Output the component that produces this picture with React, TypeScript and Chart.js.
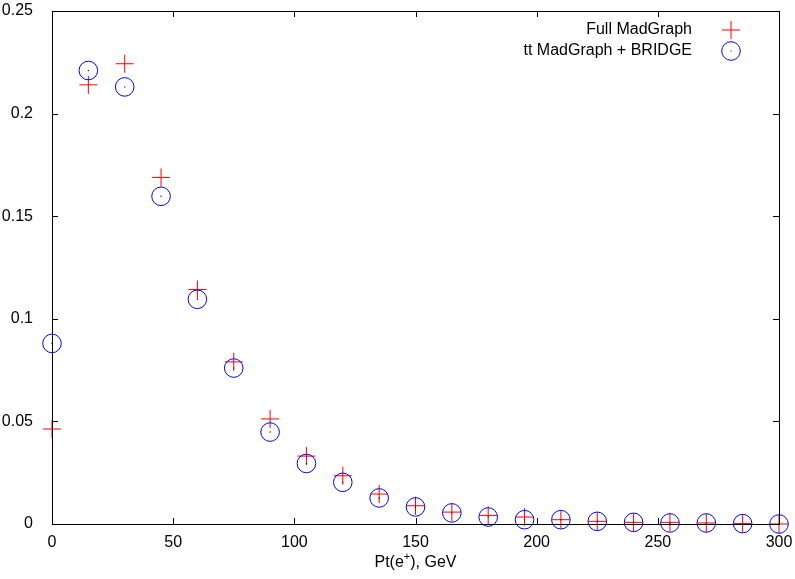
import React, { useEffect, useRef } from "react";
import { Chart, registerables } from "chart.js";

Chart.register(...registerables);

// ---- data ----
const ptValues = [0, 15, 30, 45, 60, 75, 90, 105, 120, 135, 150, 165, 180, 195, 210, 225, 240, 255, 270, 285, 300];
const fullMadGraph = [0.0463, 0.214, 0.2243, 0.1689, 0.1143, 0.079, 0.0512, 0.0331, 0.0235, 0.0146, 0.0089, 0.0058, 0.0042, 0.0034, 0.0021, 0.0013, 0.0008, 0.0008, 0.0005, 0.0002, 0.0];
const ttBridge = [0.088, 0.221, 0.213, 0.1597, 0.1095, 0.076, 0.0448, 0.0295, 0.0203, 0.0127, 0.0083, 0.0054, 0.0034, 0.0021, 0.0021, 0.0013, 0.0008, 0.0005, 0.0005, 0.0002, 0.0];
const xTickValues = [0, 50, 100, 150, 200, 250, 300];
const yTickValues = [0, 0.05, 0.1, 0.15, 0.2, 0.25];
const seriesLabels = ["Full MadGraph", "tt MadGraph + BRIDGE"];
const xTitleMain = "Pt(e";
const xTitleSup = "+";
const xTitleEnd = "), GeV";

const FONT = "Liberation Sans, Arial, sans-serif";
const RED = "#ff0000";
const BLUE = "#0000ff";

const framePlugin = {
  id: "gnuplotFrame",
  afterDatasetsDraw(chart: any) {
    const { ctx, chartArea: a, scales } = chart;
    const xs = scales.x;
    const ys = scales.y;
    ctx.save();
    ctx.strokeStyle = "#000";
    ctx.lineWidth = 1;
    ctx.beginPath();
    ctx.rect(Math.round(a.left) + 0.5, Math.round(a.top) + 0.5, Math.round(a.right - a.left), Math.round(a.bottom - a.top));
    ctx.stroke();
    const tl = 6;
    ctx.beginPath();
    xTickValues.forEach((v) => {
      const px = Math.round(xs.getPixelForValue(v)) + 0.5;
      ctx.moveTo(px, a.bottom);
      ctx.lineTo(px, a.bottom - tl);
      ctx.moveTo(px, a.top);
      ctx.lineTo(px, a.top + tl);
    });
    yTickValues.forEach((v) => {
      const py = Math.round(ys.getPixelForValue(v)) + 0.5;
      ctx.moveTo(a.left, py);
      ctx.lineTo(a.left + tl, py);
      ctx.moveTo(a.right, py);
      ctx.lineTo(a.right - tl, py);
    });
    ctx.stroke();
    ctx.restore();
  },
  afterDraw(chart: any) {
    const { ctx, chartArea: a } = chart;
    ctx.save();
    // x-axis title with superscript
    ctx.fillStyle = "#000";
    ctx.textBaseline = "alphabetic";
    ctx.font = `16px ${FONT}`;
    const w1 = ctx.measureText(xTitleMain).width;
    const w3 = ctx.measureText(xTitleEnd).width;
    ctx.font = `11px ${FONT}`;
    const w2 = ctx.measureText(xTitleSup).width;
    const total = w1 + w2 + w3;
    let x = (a.left + a.right) / 2 - total / 2;
    const baseY = 567;
    ctx.textAlign = "left";
    ctx.font = `16px ${FONT}`;
    ctx.fillText(xTitleMain, x, baseY);
    x += w1;
    ctx.font = `11px ${FONT}`;
    ctx.fillText(xTitleSup, x, baseY - 7);
    x += w2;
    ctx.font = `16px ${FONT}`;
    ctx.fillText(xTitleEnd, x, baseY);

    // legend (gnuplot style: right-aligned text, sample on the right)
    const textRight = 692;
    const symX = 731;
    const rows = [30, 51];
    ctx.textAlign = "right";
    ctx.textBaseline = "middle";
    ctx.font = `16px ${FONT}`;
    ctx.fillText(seriesLabels[0], textRight, rows[0]);
    ctx.fillText(seriesLabels[1], textRight, rows[1]);
    ctx.lineWidth = 1;
    ctx.strokeStyle = RED;
    ctx.beginPath();
    ctx.moveTo(symX - 9, rows[0]);
    ctx.lineTo(symX + 9, rows[0]);
    ctx.moveTo(symX, rows[0] - 9);
    ctx.lineTo(symX, rows[0] + 9);
    ctx.stroke();
    ctx.strokeStyle = BLUE;
    ctx.beginPath();
    ctx.arc(symX, rows[1], 9.3, 0, Math.PI * 2);
    ctx.stroke();
    ctx.fillStyle = BLUE;
    ctx.fillRect(symX - 0.5, rows[1] - 0.5, 1, 1);
    ctx.restore();
  },
};

function fmtY(v: number) {
  return String(Number(v.toFixed(2)));
}

export default function App() {
  const ref = useRef<HTMLCanvasElement | null>(null);
  useEffect(() => {
    if (!ref.current) return;
    const redPts = ptValues.map((x, i) => ({ x, y: fullMadGraph[i] }));
    const bluePts = ptValues.map((x, i) => ({ x, y: ttBridge[i] }));
    const chart = new Chart(ref.current, {
      type: "scatter",
      data: {
        datasets: [
          {
            label: seriesLabels[1],
            data: bluePts,
            pointStyle: "circle",
            pointRadius: 9.3,
            pointHoverRadius: 9.3,
            borderColor: BLUE,
            backgroundColor: "rgba(0,0,0,0)",
            borderWidth: 1,
            clip: false,
          } as any,
          {
            label: seriesLabels[1] + " centre",
            data: bluePts,
            pointStyle: "circle",
            pointRadius: 0.7,
            borderWidth: 0,
            backgroundColor: BLUE,
            clip: false,
          } as any,
          {
            label: seriesLabels[0],
            data: redPts,
            pointStyle: "cross",
            pointRadius: 9,
            pointHoverRadius: 9,
            borderColor: RED,
            borderWidth: 1,
            clip: false,
          } as any,
        ],
      },
      options: {
        responsive: false,
        animation: false,
        layout: { padding: { top: 11, right: 16, left: 0, bottom: 0 } },
        plugins: {
          legend: { display: false },
          tooltip: { enabled: false },
          title: { display: false },
        },
        scales: {
          x: {
            type: "linear",
            min: 0,
            max: 300,
            grid: { display: false },
            border: { display: false },
            afterFit: (s: any) => {
              s.height = 55;
              s.paddingLeft = 0;
              s.paddingRight = 0;
            },
            afterBuildTicks: (s: any) => {
              s.ticks = xTickValues.map((v) => ({ value: v }));
            },
            ticks: {
              padding: 1,
              color: "#000",
              font: { family: FONT, size: 16 },
              maxRotation: 0,
              callback: (v: any) => String(v),
            },
          },
          y: {
            type: "linear",
            min: 0,
            max: 0.25,
            grid: { display: false },
            border: { display: false },
            afterFit: (s: any) => {
              s.width = 52;
              s.paddingTop = 0;
              s.paddingBottom = 0;
            },
            afterBuildTicks: (s: any) => {
              s.ticks = yTickValues.map((v) => ({ value: v }));
            },
            ticks: {
              padding: 11,
              color: "#000",
              font: { family: FONT, size: 16 },
              callback: (v: any) => fmtY(Number(v)),
            },
          },
        },
      } as any,
      plugins: [framePlugin],
    });
    return () => chart.destroy();
  }, []);

  return (
    <div style={{ position: "absolute", left: 0, top: 0, width: 795, height: 579, background: "#fff" }}>
      <canvas ref={ref} width={795} height={579} style={{ display: "block" }} />
    </div>
  );
}
